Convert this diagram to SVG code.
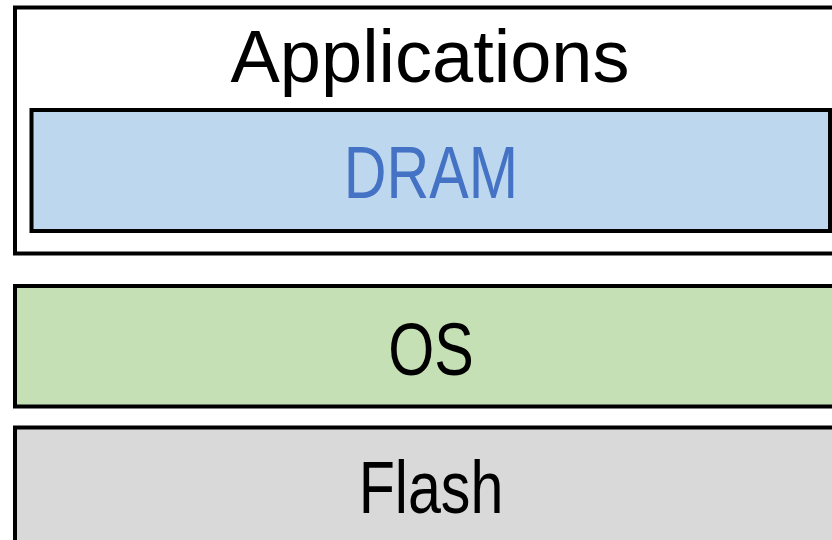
<svg xmlns="http://www.w3.org/2000/svg" width="832" height="540" viewBox="0 0 832 540">
  <style>
    .box { stroke: #000; stroke-width: 4; stroke-linejoin: miter; }
    .lbl { font-family: "Liberation Sans", Arial, sans-serif; font-size: 74px; text-anchor: middle; }
  </style>
  <rect x="0" y="0" width="832" height="540" fill="#fff"/>
  <g id="applications">
    <rect class="box" x="15" y="7.5" width="830" height="246" fill="#fff"/>
    <text class="lbl" x="430" y="82" font-size="73" fill="#000">Applications</text>
  </g>
  <g id="dram">
    <rect class="box" x="31.5" y="110" width="798.5" height="121" fill="#BDD7EE"/>
    <text class="lbl" transform="translate(431,198) scale(0.8,1)" x="0" y="0" fill="#4472C4">DRAM</text>
  </g>
  <g id="os">
    <rect class="box" x="15" y="286" width="830" height="120.5" fill="#C5E0B4"/>
    <text class="lbl" transform="translate(431,375) scale(0.8,1)" x="0" y="0" fill="#000">OS</text>
  </g>
  <g id="flash">
    <rect class="box" x="15" y="427.5" width="830" height="130" fill="#D9D9D9"/>
    <text class="lbl" transform="translate(431,513) scale(0.8,1)" x="0" y="0" fill="#000">Flash</text>
  </g>
  <g id="connectors"/>
</svg>
